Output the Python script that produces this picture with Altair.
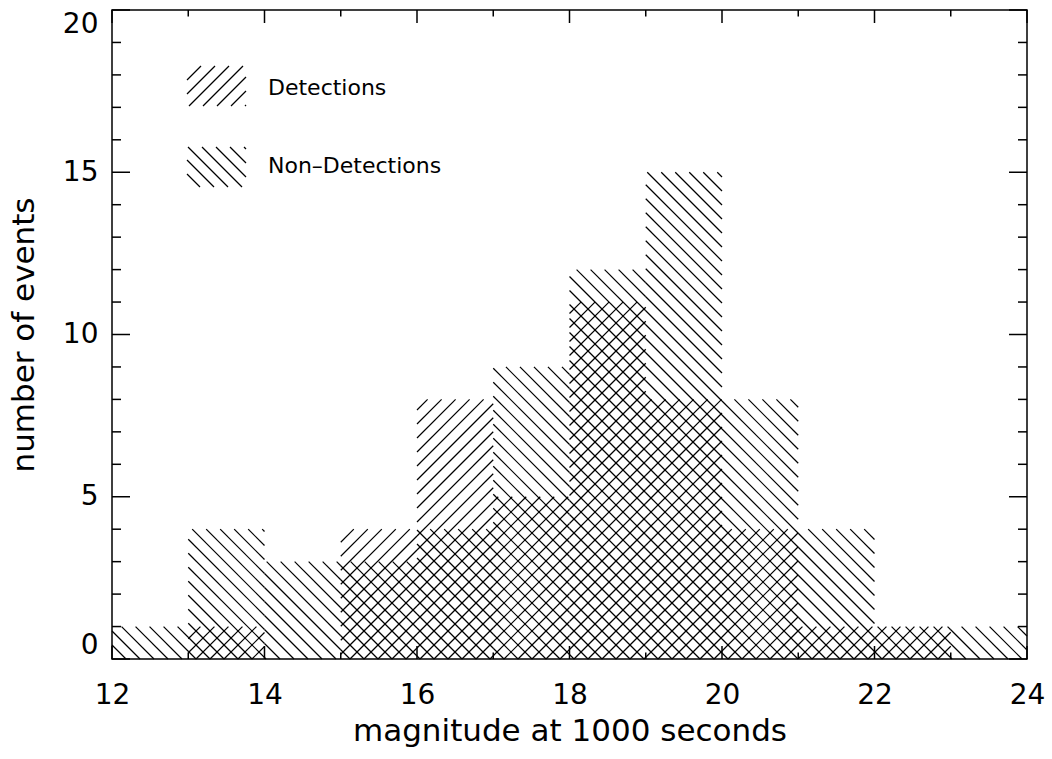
import math

import altair as alt
import pandas as pd

# Histogram of event magnitudes at 1000 s, unit-width bins from 12 to 24
bin_start = [12, 13, 14, 15, 16, 17, 18, 19, 20, 21, 22, 23]
non_detections = [1, 4, 3, 3, 4, 9, 12, 15, 8, 4, 1, 1]
detections = [0, 1, 0, 4, 8, 5, 11, 8, 4, 1, 1, 0]

x_ticks_major = [12, 14, 16, 18, 20, 22, 24]
y_ticks_major = [0, 5, 10, 15, 20]
legend_labels = ["Detections", "Non\u2013Detections"]

BIN_WIDTH = 1
X_MIN, X_MAX = 12, 24
Y_MIN, Y_MAX = 0, 20
W, H = 915, 649
PX_X = W / (X_MAX - X_MIN)
PX_Y = H / (Y_MAX - Y_MIN)
SPACING = 14  # horizontal distance between hatch lines, px
FONT = "DejaVu Sans"


def hatch(X0, X1, Y0, Y1, direction):
    """Line-fill a pixel rectangle (Y upward) with 45-degree segments."""
    segs = []
    if direction == "/":  # Y = X + c
        cmin, cmax = Y0 - X1, Y1 - X0
    else:  # Y = -X + c
        cmin, cmax = Y0 + X0, Y1 + X1
    for k in range(math.ceil(cmin / SPACING), math.floor(cmax / SPACING) + 1):
        c = k * SPACING
        if direction == "/":
            lo, hi = max(X0, Y0 - c), min(X1, Y1 - c)
            if hi - lo > 0.3:
                segs.append((lo, lo + c, hi, hi + c))
        else:
            lo, hi = max(X0, c - Y1), min(X1, c - Y0)
            if hi - lo > 0.3:
                segs.append((lo, c - lo, hi, c - hi))
    return segs


def to_data(segs, group):
    return [
        {
            "x": X_MIN + a / PX_X,
            "y": Y_MIN + b / PX_Y,
            "x2": X_MIN + c / PX_X,
            "y2": Y_MIN + d / PX_Y,
            "group": group,
        }
        for a, b, c, d in segs
    ]


def bar_hatch(counts, direction, group):
    rows = []
    for s, n in zip(bin_start, counts):
        if n <= 0:
            continue
        X0 = (s - X_MIN) * PX_X
        X1 = (s + BIN_WIDTH - X_MIN) * PX_X
        rows += to_data(hatch(X0, X1, 0, (n - Y_MIN) * PX_Y, direction), group)
    return rows


bars = pd.DataFrame(
    [
        {"start": s, "end": s + BIN_WIDTH, "count": n, "group": g}
        for g, counts in (("Non-Detections", non_detections), ("Detections", detections))
        for s, n in zip(bin_start, counts)
    ]
)

hatch_rows = bar_hatch(non_detections, "\\", "Non-Detections")
hatch_rows += bar_hatch(detections, "/", "Detections")

# legend swatches (pixel boxes inside the plot, Y measured upward)
legend_rows = []
legend_rows += to_data(hatch(75, 134, H - 96, H - 56, "/"), "Detections")
legend_rows += to_data(hatch(75, 134, H - 177, H - 137, "\\"), "Non-Detections")

hatch_df = pd.DataFrame(hatch_rows + legend_rows)

x_scale = alt.Scale(domain=[X_MIN, X_MAX], nice=False, zero=False)
y_scale = alt.Scale(domain=[Y_MIN, Y_MAX], nice=False, zero=False)

base_bars = (
    alt.Chart(bars)
    .mark_rect(fillOpacity=0, strokeOpacity=0)
    .encode(
        x=alt.X(
            "start:Q",
            scale=x_scale,
            axis=alt.Axis(
                values=x_ticks_major,
                format="d",
                ticks=False,
                tickSize=0,
                domain=False,
                grid=False,
                labelFlush=False,
                labelFont=FONT,
                labelFontSize=28,
                labelColor="black",
                labelPadding=22,
                title="magnitude at 1000 seconds",
                titleFont=FONT,
                titleFontSize=31,
                titleFontWeight="normal",
                titleColor="black",
                titleBaseline="alphabetic",
                titleY=81,
            ),
        ),
        x2="end:Q",
        y=alt.Y(
            "count:Q",
            scale=y_scale,
            axis=alt.Axis(
                values=y_ticks_major,
                format="d",
                ticks=False,
                tickSize=0,
                domain=False,
                grid=False,
                labelFont=FONT,
                labelFontSize=28,
                labelColor="black",
                labelPadding=14,
                labelFlush=True,
                title="number of events",
                titleFont=FONT,
                titleFontSize=31,
                titleFontWeight="normal",
                titleColor="black",
                titleBaseline="alphabetic",
                titleX=-79,
                titleY=H / 2,
            ),
        ),
        y2=alt.datum(0),
    )
)

hatch_lines = (
    alt.Chart(hatch_df)
    .mark_rule(color="black", strokeWidth=1.2)
    .encode(
        x=alt.X("x:Q", scale=x_scale),
        y=alt.Y("y:Q", scale=y_scale),
        x2="x2:Q",
        y2="y2:Q",
    )
)

# inward-pointing ticks on all four sides
y_major = pd.DataFrame({"v": y_ticks_major})
y_minor = pd.DataFrame({"v": [v for v in range(Y_MIN, Y_MAX + 1) if v % 5]})
x_major = pd.DataFrame({"v": x_ticks_major})
x_minor = pd.DataFrame({"v": [v for v in range(X_MIN, X_MAX + 1) if v % 2]})

tick_style = dict(color="black", strokeWidth=1.5)


def y_ticks(df, length):
    left = alt.Chart(df).mark_rule(**tick_style).encode(
        y=alt.Y("v:Q", scale=y_scale), x=alt.value(0), x2=alt.value(length)
    )
    right = alt.Chart(df).mark_rule(**tick_style).encode(
        y=alt.Y("v:Q", scale=y_scale), x=alt.value(W), x2=alt.value(W - length)
    )
    return left + right


def x_ticks(df, length):
    bottom = alt.Chart(df).mark_rule(**tick_style).encode(
        x=alt.X("v:Q", scale=x_scale), y=alt.value(H), y2=alt.value(H - length)
    )
    top = alt.Chart(df).mark_rule(**tick_style).encode(
        x=alt.X("v:Q", scale=x_scale), y=alt.value(0), y2=alt.value(length)
    )
    return bottom + top


legend_text = [
    alt.Chart(pd.DataFrame({"t": [legend_labels[0]]}))
    .mark_text(font=FONT, fontSize=22, align="left", baseline="middle", color="black")
    .encode(text="t:N", x=alt.value(156), y=alt.value(77.5)),
    alt.Chart(pd.DataFrame({"t": [legend_labels[1]]}))
    .mark_text(font=FONT, fontSize=22, align="left", baseline="middle", color="black")
    .encode(text="t:N", x=alt.value(156), y=alt.value(156)),
]

chart = (
    alt.layer(
        base_bars,
        hatch_lines,
        y_ticks(y_major, 18),
        y_ticks(y_minor, 9),
        x_ticks(x_major, 13),
        x_ticks(x_minor, 6.5),
        *legend_text,
    )
    .properties(
        width=W,
        height=H,
        padding={"left": 112, "top": 10, "right": 25, "bottom": 100},
        autosize=alt.AutoSizeParams(type="none"),
        background="white",
    )
    .configure_view(stroke="black", strokeWidth=1.5)
)

chart.save("out.html", embed_options={"renderer": "svg", "actions": False})
